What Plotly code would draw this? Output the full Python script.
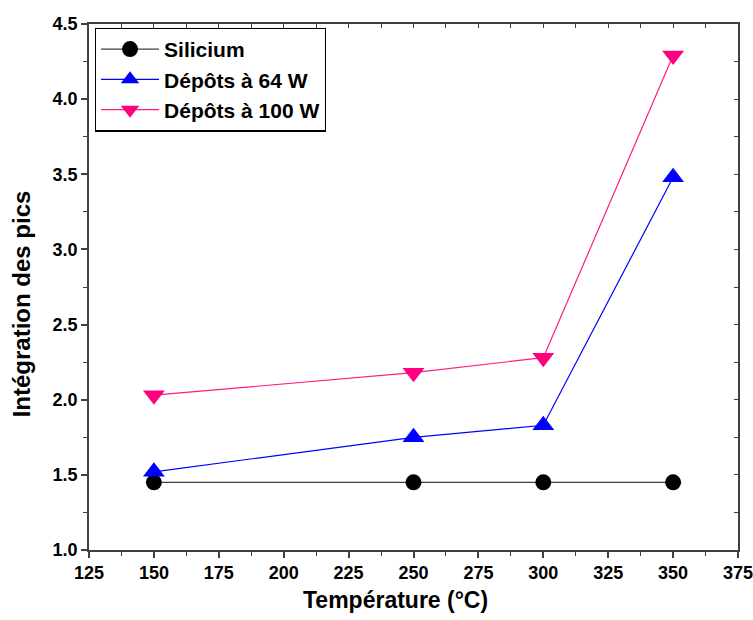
import plotly.graph_objects as go

temperature = [150, 250, 300, 350]
silicium = [1.45, 1.45, 1.45, 1.45]
depots_64w = [1.52, 1.75, 1.83, 3.48]
depots_100w = [2.03, 2.18, 2.28, 4.29]

x_ticks = [125, 150, 175, 200, 225, 250, 275, 300, 325, 350, 375]
y_ticks = [1.0, 1.5, 2.0, 2.5, 3.0, 3.5, 4.0, 4.5]
x_title = "Température (°C)"
y_title = "Intégration des pics"

FONT = "Liberation Sans, Arial, sans-serif"

fig = go.Figure()
fig.add_trace(go.Scatter(x=temperature, y=silicium, name="<b>Silicium</b>", mode="lines+markers",
                         line=dict(color="#404040", width=1.2),
                         marker=dict(symbol="circle", size=16, color="black")))
fig.add_trace(go.Scatter(x=temperature, y=depots_64w, name="<b>Dépôts à 64 W</b>", mode="lines+markers",
                         line=dict(color="#0000ff", width=1.2),
                         marker=dict(symbol="triangle-up", size=19, color="#0000ff")))
fig.add_trace(go.Scatter(x=temperature, y=depots_100w, name="<b>Dépôts à 100 W</b>", mode="lines+markers",
                         line=dict(color="#ff1a85", width=1.2),
                         marker=dict(symbol="triangle-down", size=19, color="#ff0080")))
# invisible trace to anchor mirror axes
fig.add_trace(go.Scatter(x=[125], y=[1.0], xaxis="x2", yaxis="y2", mode="markers",
                         marker=dict(opacity=0), showlegend=False, hoverinfo="skip"))

axis_line = dict(showline=True, linecolor="#404040", linewidth=1.5, showgrid=False, zeroline=False)

fig.update_layout(
    width=753, height=620,
    margin=dict(l=89, r=15, t=24, b=70, autoexpand=False),
    paper_bgcolor="white", plot_bgcolor="white",
    font=dict(family=FONT, color="black"),
    showlegend=True,
    legend=dict(x=0.009, y=0.993, xanchor="left", yanchor="top",
                bordercolor="black", borderwidth=1.2, bgcolor="white",
                font=dict(family=FONT, size=21, color="black"),
                itemwidth=58, tracegroupgap=0),
    xaxis=dict(range=[125, 375], tickvals=x_ticks, ticktext=[f"<b>{v}</b>" for v in x_ticks],
               ticks="outside", ticklen=6, tickwidth=1.5, tickcolor="#404040",
               minor=dict(dtick=12.5, tick0=125, ticks="outside", ticklen=4, tickwidth=1.2, tickcolor="#404040"),
               tickfont=dict(size=18, family=FONT, color="black"),
               ticklabeloverflow="allow",
               automargin=False, **axis_line),
    yaxis=dict(range=[1.0, 4.5], tickvals=y_ticks, ticktext=[f"<b>{v:.1f}</b>" for v in y_ticks],
               ticks="outside", ticklen=6, tickwidth=1.5, tickcolor="#404040",
               minor=dict(dtick=0.25, tick0=1.0, ticks="outside", ticklen=4, tickwidth=1.2, tickcolor="#404040"),
               tickfont=dict(size=18, family=FONT, color="black"),
               ticklabeloverflow="allow",
               automargin=False, **axis_line),
    xaxis2=dict(range=[125, 375], overlaying="x", side="top", anchor="y2", showticklabels=False,
                tickvals=x_ticks, ticks="inside", ticklen=4, tickwidth=1.2, tickcolor="#404040",
                minor=dict(dtick=12.5, tick0=125, ticks="inside", ticklen=4, tickwidth=1.2, tickcolor="#404040"),
                automargin=False, **axis_line),
    yaxis2=dict(range=[1.0, 4.5], overlaying="y", side="right", anchor="x2", showticklabels=False,
                tickvals=y_ticks, ticks="inside", ticklen=4, tickwidth=1.2, tickcolor="#404040",
                minor=dict(dtick=0.25, tick0=1.0, ticks="inside", ticklen=4, tickwidth=1.2, tickcolor="#404040"),
                automargin=False, **axis_line),
    annotations=[
        dict(text=f"<b>{x_title}</b>", xref="paper", yref="paper", x=0.4715, y=-0.095,
             xanchor="center", yanchor="middle", showarrow=False,
             font=dict(size=23, family=FONT, color="black")),
        dict(text=f"<b>{y_title}</b>", xref="paper", yref="paper", x=-0.104, y=0.468,
             xanchor="center", yanchor="middle", showarrow=False, textangle=-90,
             font=dict(size=24, family=FONT, color="black")),
    ],
)

fig.write_html("out.html",
               config={"displayModeBar": False},
               post_script="document.body.style.margin='0';document.body.style.overflow='hidden';")
